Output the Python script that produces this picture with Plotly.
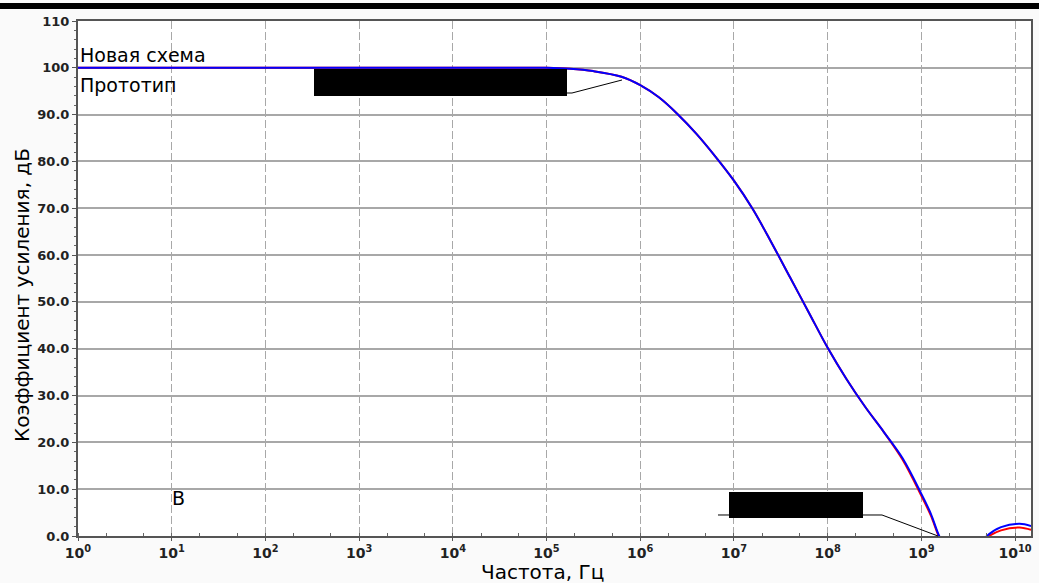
import plotly.graph_objects as go

# ---- data ----
freq_hz = [1, 1e4, 1e5, 1.78e5, 3.16e5, 6.31e5, 1e6, 1.58e6, 2.51e6, 3.98e6, 6.31e6,
           1e7, 1.58e7, 2.51e7, 3.98e7, 6.31e7, 1e8, 1.58e8, 2.51e8, 3.98e8, 6.31e8,
           1e9, 1.26e9, 1.55e9, 2e9, 2.82e9, 3.98e9, 5.01e9, 7.08e9, 1.12e10, 1.48e10]
gain_new = [100, 100, 100, 99.8, 99.3, 98.1, 96.3, 93.7, 90.1, 85.9, 81.1,
            75.9, 69.9, 62.7, 55.2, 47.7, 40.2, 33.6, 27.6, 22.2, 16.6,
            9.0, 4.8, 0, -4, -6, -3, 0, 1.9, 2.6, 2.1]
gain_proto = [100, 100, 100, 99.8, 99.3, 98.1, 96.3, 93.7, 90.1, 85.9, 81.1,
              75.9, 69.9, 62.7, 55.2, 47.7, 40.2, 33.6, 27.6, 22.2, 16.3,
              8.6, 4.4, -0.3, -4.5, -6.5, -3.5, -0.4, 1.2, 1.8, 1.3]

x_tick_vals = [1, 1e1, 1e2, 1e3, 1e4, 1e5, 1e6, 1e7, 1e8, 1e9, 1e10]
x_tick_text = ["10<sup>%d</sup>" % i for i in range(11)]
y_tick_vals = [0, 10, 20, 30, 40, 50, 60, 70, 80, 90, 100, 110]
y_tick_text = ["0.0", "10.0", "20.0", "30.0", "40.0", "50.0", "60.0", "70.0", "80.0", "90.0", "100", "110"]

W, H = 1039, 583
L, R, T, B = 78, 8, 21, 47
PW, PH = W - L - R, H - T - B


def px(x):
    return (x - L) / PW


def py(y):
    return (H - B - y) / PH


fig = go.Figure()
fig.add_trace(go.Scatter(x=freq_hz, y=gain_proto, mode="lines", name="Прототип",
                         line=dict(color="#ff0000", width=2, shape="spline", smoothing=1.0)))
fig.add_trace(go.Scatter(x=freq_hz, y=gain_new, mode="lines", name="Новая схема",
                         line=dict(color="#0000ff", width=2, shape="spline", smoothing=1.0)))

fig.update_xaxes(type="log", range=[0, 10.17], tickvals=x_tick_vals, ticktext=x_tick_text,
                 tickfont=dict(family="DejaVu Sans", size=14, color="#222", weight="bold"),
                 showgrid=True, gridcolor="#a8a8a8", griddash="8px,3px", gridwidth=1.2,
                 showline=True, linecolor="#555", linewidth=2, mirror=True,
                 ticks="outside", ticklen=3, tickcolor="#555",
                 minor=dict(ticks="inside", ticklen=3, tickcolor="#666", showgrid=False),
                 zeroline=False, automargin=False)
fig.update_yaxes(range=[0, 110], tickvals=y_tick_vals, ticktext=y_tick_text,
                 tickfont=dict(family="DejaVu Sans", size=13, color="#222", weight="bold"),
                 showgrid=True, gridcolor="#a8a8a8", gridwidth=1.6,
                 showline=True, linecolor="#555", linewidth=2, mirror=True,
                 ticks="outside", ticklen=4, tickcolor="#555",
                 minor=dict(dtick=2, ticks="outside", ticklen=2, tickcolor="#666", showgrid=False),
                 zeroline=False, automargin=False)

shapes = [
    dict(type="rect", xref="paper", yref="paper", x0=px(0), x1=px(W), y0=py(9), y1=py(3),
         fillcolor="black", line=dict(width=0)),
    dict(type="rect", xref="paper", yref="paper", x0=px(314), x1=px(567), y0=py(96), y1=py(69),
         fillcolor="black", line=dict(width=0)),
    dict(type="path", xref="paper", yref="paper",
         path="M %f %f L %f %f L %f %f" % (px(567), py(93), px(572), py(93), px(622), py(80)),
         line=dict(color="black", width=1)),
    dict(type="rect", xref="paper", yref="paper", x0=px(729), x1=px(863), y0=py(518), y1=py(492),
         fillcolor="black", line=dict(width=0)),
    dict(type="path", xref="paper", yref="paper",
         path="M %f %f L %f %f L %f %f" % (px(718), py(515), px(882), py(515), px(938), py(536)),
         line=dict(color="black", width=1)),
]

txtfont = dict(family="DejaVu Sans", size=19, color="black")
titlefont = dict(family="DejaVu Sans", size=20, color="black")
annotations = [
    dict(text="Новая схема", xref="paper", yref="paper", x=px(78), y=py(55), xanchor="left",
         yanchor="middle", showarrow=False, font=txtfont),
    dict(text="Прототип", xref="paper", yref="paper", x=px(78), y=py(85), xanchor="left",
         yanchor="middle", showarrow=False, font=txtfont),
    dict(text="B", xref="paper", yref="paper", x=px(170), y=py(498), xanchor="left",
         yanchor="middle", showarrow=False, font=txtfont),
    dict(text="Частота, Гц", xref="paper", yref="paper", x=px(542), y=py(572), xanchor="center",
         yanchor="middle", showarrow=False, font=titlefont),
    dict(text="Коэффициент усиления, дБ", xref="paper", yref="paper", x=px(22), y=py(295),
         xanchor="center", yanchor="middle", textangle=-90, showarrow=False, font=titlefont),
]

fig.update_layout(width=W, height=H, margin=dict(l=L, r=R, t=T, b=B),
                  paper_bgcolor="#fafafa", plot_bgcolor="white", showlegend=False,
                  shapes=shapes, annotations=annotations)

fig.write_html("out.html", config={"displayModeBar": False},
               post_script="document.body.style.margin='0';document.body.style.overflow='hidden';")
